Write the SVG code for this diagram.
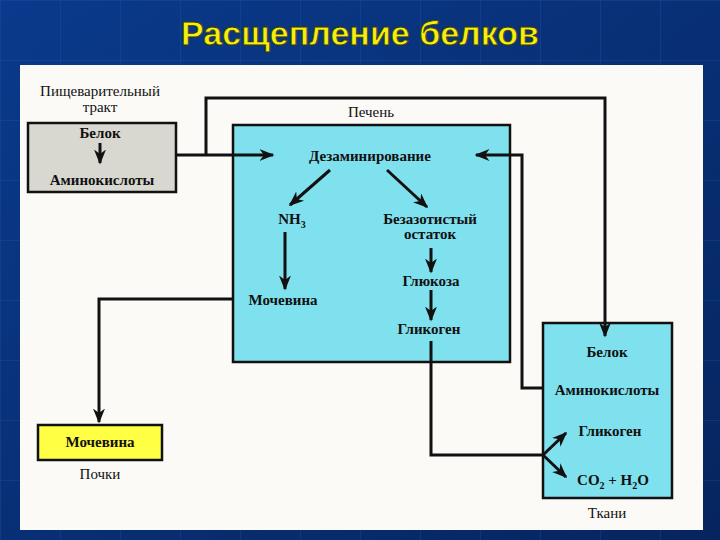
<svg xmlns="http://www.w3.org/2000/svg" width="720" height="540" viewBox="0 0 720 540">
<defs>
<linearGradient id="bg" x1="0" y1="0" x2="1" y2="1"><stop offset="0" stop-color="#0a3a8c"/><stop offset="1" stop-color="#06255f"/></linearGradient>
<pattern id="grid" width="60" height="60" patternUnits="userSpaceOnUse"><path d="M60 0H0V60" fill="none" stroke="#2a5cb0" stroke-width="1" opacity="0.5"/></pattern>
<marker id="ah" viewBox="0 0 10 10" refX="9" refY="5" markerWidth="5" markerHeight="5" orient="auto"><path d="M0 1L10 5L0 9L3 5Z" fill="#111"/></marker>
</defs>
<style>
.t{font-family:"Liberation Serif",serif;font-size:15px;fill:#111;text-anchor:middle}
.b{font-weight:bold}
.box{stroke:#111;stroke-width:2.5}
.ln{fill:none;stroke:#111;stroke-width:3}
</style>
<rect width="720" height="540" fill="url(#bg)"/>
<rect width="720" height="540" fill="url(#grid)"/>
<text x="360" y="45" font-family="Liberation Sans,sans-serif" font-size="34" font-weight="bold" fill="#f5ee10" stroke="#3a3a00" stroke-width="0.8" text-anchor="middle">Расщепление белков</text>
<rect x="20" y="65" width="683" height="465" fill="#fbfaf6"/>
<g id="digest"><rect class="box" x="28" y="123" width="148" height="69" fill="#d8d8d0"/>
<text class="t" x="100" y="96">Пищеварительный</text><text class="t" x="100" y="112">тракт</text>
<text class="t b" x="100" y="138">Белок</text><text class="t b" x="102" y="185">Аминокислоты</text></g>
<g id="liver"><rect class="box" x="233" y="125" width="277" height="237" fill="#7fe0ee"/>
<text class="t" x="371" y="117">Печень</text>
<text class="t b" x="370" y="161">Дезаминирование</text>
<text class="t b" x="292" y="224">NH<tspan font-size="10" dy="4">3</tspan></text>
<text class="t b" x="430" y="224">Безазотистый</text><text class="t b" x="430" y="239">остаток</text>
<text class="t b" x="431" y="286">Глюкоза</text>
<text class="t b" x="283" y="305">Мочевина</text>
<text class="t b" x="429" y="334">Гликоген</text></g>
<g id="tissue"><rect class="box" x="543" y="323" width="129" height="175" fill="#7fe0ee"/>
<text class="t b" x="607" y="357">Белок</text><text class="t b" x="607" y="395">Аминокислоты</text>
<text class="t b" x="610" y="436">Гликоген</text>
<text class="t b" x="613" y="485">CO<tspan font-size="10" dy="4">2</tspan><tspan dy="-4"> + H</tspan><tspan font-size="10" dy="4">2</tspan><tspan dy="-4">O</tspan></text>
<text class="t" x="607" y="518">Ткани</text></g>
<g id="kidney"><rect class="box" x="38" y="425" width="124" height="35" fill="#ffff44"/>
<text class="t b" x="100" y="447">Мочевина</text><text class="t" x="100" y="479">Почки</text></g>
<g id="connectors">
<path class="ln" d="M100 143V163" marker-end="url(#ah)"/>
<path class="ln" d="M176 155H273" marker-end="url(#ah)"/>
<path class="ln" d="M206 155V98H605V336" marker-end="url(#ah)"/>
<path class="ln" d="M543 388H522V155H476" marker-end="url(#ah)"/>
<path class="ln" d="M330 170L290 205" marker-end="url(#ah)"/>
<path class="ln" d="M387 170L427 207" marker-end="url(#ah)"/>
<path class="ln" d="M285 232V289" marker-end="url(#ah)"/>
<path class="ln" d="M431 248V272" marker-end="url(#ah)"/>
<path class="ln" d="M431 290V320" marker-end="url(#ah)"/>
<path class="ln" d="M233 299H99V422" marker-end="url(#ah)"/>
<path class="ln" d="M431 341V455H543"/>
<path class="ln" d="M543 455L566 433" marker-end="url(#ah)"/>
<path class="ln" d="M543 455L566 477" marker-end="url(#ah)"/>
</g>
</svg>
